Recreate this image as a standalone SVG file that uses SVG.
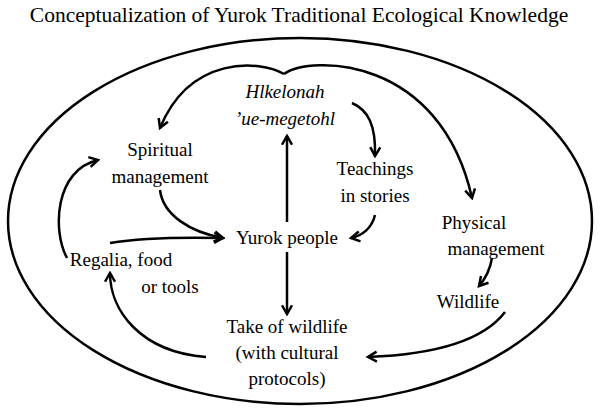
<svg xmlns="http://www.w3.org/2000/svg" width="600" height="418" viewBox="0 0 600 418" font-family="'Liberation Serif','Times New Roman','DejaVu Serif',serif">
<style>
text{font-family:'Liberation Serif','Times New Roman','DejaVu Serif',serif;font-size:19px;fill:#000;text-anchor:middle}
.c path{fill:none;stroke:#000;stroke-width:2.5;marker-end:url(#a)}
</style>
<defs><marker id="a" viewBox="0 0 10 10" refX="8" refY="5" markerWidth="5" markerHeight="5" orient="auto"><path d="M1,1 L8,5 L1,9" fill="none" stroke="#000" stroke-width="2"/></marker></defs>
<rect width="600" height="418" fill="#fff"/>
<text x="299" y="22" style="font-size:21.5px">Conceptualization of Yurok Traditional Ecological Knowledge</text>
<ellipse cx="300" cy="221" rx="292" ry="183" fill="none" stroke="#000" stroke-width="2.5"/>
<g id="hlk"><text x="285" y="98" font-style="italic">Hlkelonah</text><text x="285" y="125" font-style="italic">’ue-megetohl</text></g>
<g id="spiritual"><text x="160" y="156">Spiritual</text><text x="160" y="183">management</text></g>
<g id="teachings"><text x="375" y="175">Teachings</text><text x="375" y="202">in stories</text></g>
<g id="physical"><text x="474" y="229">Physical</text><text x="496" y="255">management</text></g>
<g id="yurok"><text x="287" y="244">Yurok people</text></g>
<g id="regalia"><text x="121" y="266">Regalia, food</text><text x="170" y="293">or tools</text></g>
<g id="wildlife"><text x="468" y="308">Wildlife</text></g>
<g id="take"><text x="287" y="333">Take of wildlife</text><text x="287" y="359">(with cultural</text><text x="287" y="385">protocols)</text></g>
<g class="c">
<path d="M284,74 C260,60 190,55 160,128"/>
<path d="M284,74 C310,55 440,55 472,198"/>
<path d="M352,103 C368,110 376,125 375,156"/>
<path d="M287,222 L287,136"/>
<path d="M287,252 L287,314"/>
<path d="M160,190 C163,215 190,232 223,238"/>
<path d="M110,243 C140,238 180,237 223,238"/>
<path d="M375,215 C372,228 362,236 351,238"/>
<path d="M67,258 C52,230 55,170 98,160"/>
<path d="M206,357 C140,352 110,310 110,273"/>
<path d="M492,258 C490,270 486,278 479,286"/>
<path d="M505,312 C480,345 420,355 368,357"/>
</g>
</svg>
